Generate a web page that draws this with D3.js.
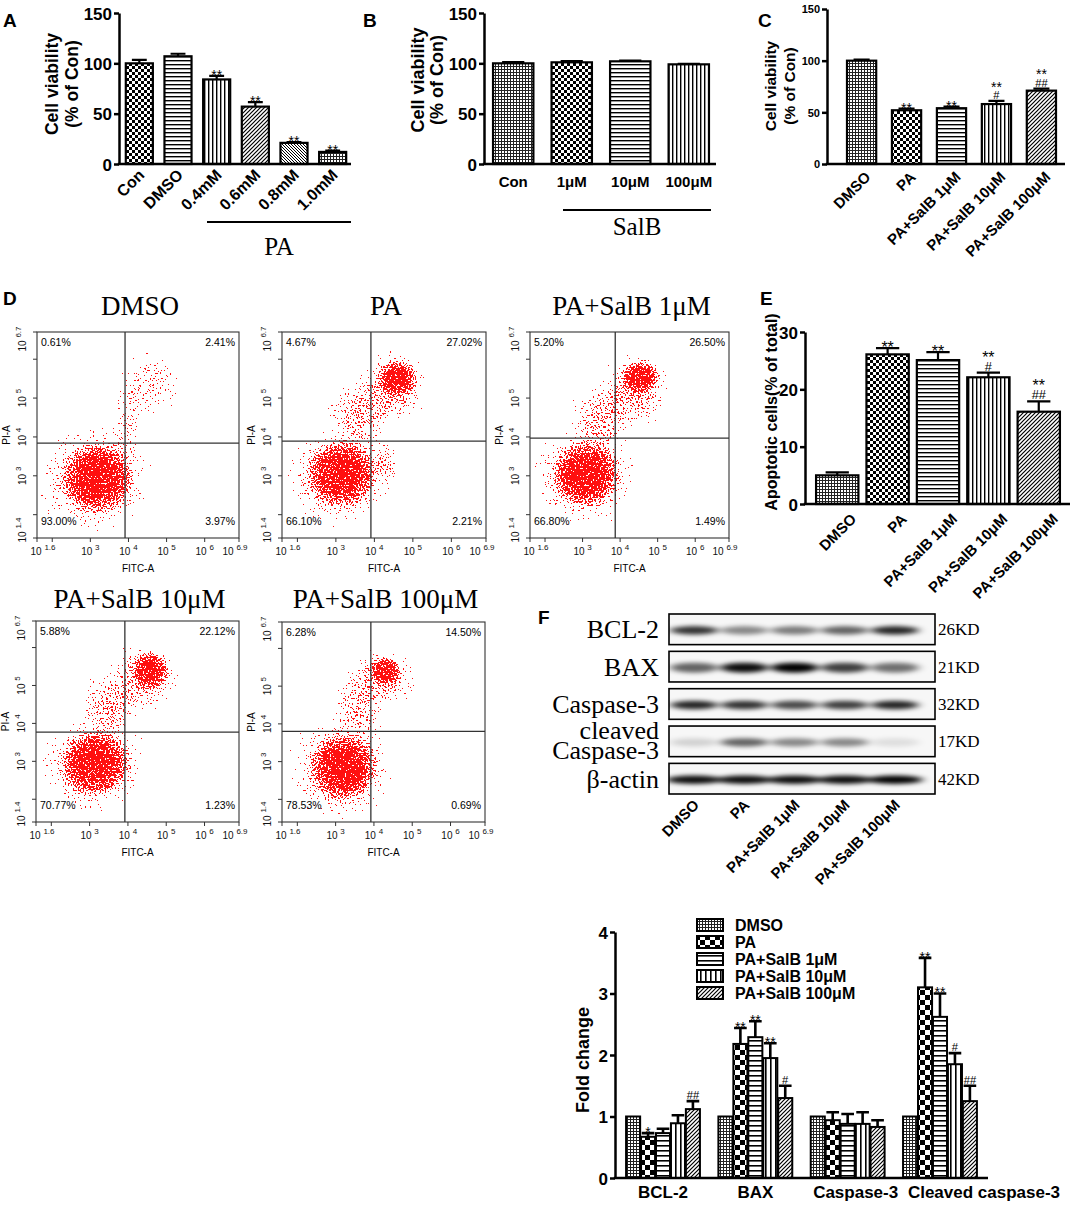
<!DOCTYPE html>
<html><head><meta charset="utf-8">
<script src="https://cdn.jsdelivr.net/npm/d3@7"></script>
<style>
body{margin:0;background:#fff}
svg{display:block}
</style>
</head><body><div id="fig"></div>
<script>
const SANS = '"Liberation Sans", Arial, sans-serif';
const SERIF = '"Liberation Serif", "Times New Roman", serif';

// ---------------- data ----------------
const aCats = ["Con", "DMSO", "0.4mM", "0.6mM", "0.8mM", "1.0mM"];
const aVals = [100, 107, 84, 57, 21, 12];
const aErrs = [3.5, 2.5, 3.5, 4.5, 0.8, 1.2];
const aMarks = [[], [], ["**"], ["**"], ["**"], ["**"]];

const bCats = ["Con", "1μM", "10μM", "100μM"];
const bVals = [100, 101, 102, 99];
const bErrs = [1.2, 1.2, 0.6, 0.6];

const cCats = ["DMSO", "PA", "PA+SalB 1μM", "PA+SalB 10μM", "PA+SalB 100μM"];
const cVals = [100, 52, 54, 58, 71];
const cErrs = [1, 1.5, 1.5, 3, 2];
const cMarks = [[], ["**"], ["**"], ["**", "#"], ["**", "##"]];

const eVals = [5, 26.1, 25.1, 22.1, 16.1];
const eErrs = [0.5, 1.1, 1.4, 0.8, 1.8];
const eMarks = [[], ["**"], ["**"], ["**", "#"], ["**", "##"]];

const flowNames = ["DMSO", "PA", "PA+SalB 1μM", "PA+SalB 10μM", "PA+SalB 100μM"];
// quadrant percentages: UL, UR, LL, LR
const flowQuad = [
  ["0.61%", "2.41%", "93.00%", "3.97%"],
  ["4.67%", "27.02%", "66.10%", "2.21%"],
  ["5.20%", "26.50%", "66.80%", "1.49%"],
  ["5.88%", "22.12%", "70.77%", "1.23%"],
  ["6.28%", "14.50%", "78.53%", "0.69%"]
];
// gate (log10 FITC, log10 PI)
const flowGate = [[3.91, 3.84], [3.91, 3.89], [3.87, 3.97], [3.92, 3.77], [3.92, 3.8]];
// populations: log10 FITC centre, log10 PI centre, x spread, y spread, tilt, density
const flowClusters = [
  [[3.2, 2.95, 1.0, 0.95, -20, 1], [3.1, 2.9, 1.6, 1.5, -20, 0.65], [4.6, 5.35, 1.0, 0.95, 0, 0.4], [4.0, 4.4, 0.45, 1.1, 0, 0.4]],
  [[3.15, 3.05, 0.95, 0.9, -20, 1], [3.1, 3.0, 1.5, 1.4, -20, 0.65], [4.6, 5.5, 0.55, 0.5, 0, 1], [4.5, 5.3, 1.0, 1.0, 0, 0.65], [3.6, 4.6, 0.95, 0.95, -30, 0.55], [4.3, 3.3, 0.5, 0.6, 0, 0.4]],
  [[3.1, 3.05, 0.95, 0.9, -20, 1], [3.05, 3.0, 1.5, 1.4, -20, 0.65], [4.55, 5.55, 0.55, 0.45, 0, 1], [4.4, 5.2, 1.0, 1.0, 0, 0.65], [3.5, 4.5, 0.95, 0.95, -30, 0.55]],
  [[3.15, 2.95, 0.95, 0.9, -20, 1], [3.1, 2.9, 1.5, 1.4, -20, 0.65], [4.6, 5.4, 0.5, 0.55, 0, 1], [4.4, 5.2, 1.05, 0.95, 0, 0.65], [3.5, 4.5, 0.85, 0.95, -30, 0.55]],
  [[3.2, 2.85, 0.95, 0.95, -20, 1], [3.15, 2.85, 1.5, 1.45, -20, 0.65], [4.3, 5.4, 0.45, 0.4, 0, 1], [4.2, 5.2, 1.05, 0.85, 0, 0.6], [3.6, 4.4, 0.75, 0.95, -30, 0.5]]
];

const blotRows = ["BCL-2", "BAX", "Caspase-3", "cleaved Caspase-3", "β-actin"];
const blotKD = ["26KD", "21KD", "32KD", "17KD", "42KD"];
const blotInt = [
  [0.8, 0.45, 0.5, 0.6, 0.85],
  [0.6, 0.95, 1, 0.75, 0.55],
  [0.85, 0.8, 0.7, 0.75, 0.85],
  [0.15, 0.6, 0.45, 0.45, 0.1],
  [0.95, 0.95, 0.95, 0.95, 1]
];

const fGroups = ["BCL-2", "BAX", "Caspase-3", "Cleaved caspase-3"];
const fSeries = ["DMSO", "PA", "PA+SalB 1μM", "PA+SalB 10μM", "PA+SalB 100μM"];
const fVals = [[1, 0.67, 0.73, 0.89, 1.12], [1, 2.18, 2.29, 1.95, 1.3], [1, 0.94, 0.88, 0.88, 0.83], [1, 3.1, 2.62, 1.85, 1.25]];
const fErrs = [[0, 0.06, 0.07, 0.13, 0.13], [0, 0.26, 0.26, 0.24, 0.2], [0, 0.13, 0.16, 0.19, 0.11], [0, 0.48, 0.38, 0.18, 0.25]];
const fMarks = [[[], ["*"], [], [], ["##"]], [[], ["**"], ["**"], ["**"], ["#"]], [[], [], [], [], []], [[], ["**"], ["**"], ["#"], ["##"]]];

// ---------------- svg ----------------
const W = 1072, H = 1208;
const svg = d3.select("#fig").append("svg").attr("width", W).attr("height", H);
const defs = svg.append("defs");

function pat(id, size, draw) {
  const p = defs.append("pattern").attr("id", id).attr("patternUnits", "userSpaceOnUse")
    .attr("width", size).attr("height", size);
  p.append("rect").attr("width", size).attr("height", size).attr("fill", "#fff");
  draw(p);
}
pat("chk", 6, p => {
  p.append("rect").attr("width", 3).attr("height", 3);
  p.append("rect").attr("x", 3).attr("y", 3).attr("width", 3).attr("height", 3);
});
pat("chkL", 10, p => {
  p.append("rect").attr("width", 5).attr("height", 5);
  p.append("rect").attr("x", 5).attr("y", 5).attr("width", 5).attr("height", 5);
});
pat("hl", 4, p => p.append("rect").attr("width", 4).attr("height", 1.4));
pat("hlL", 5, p => p.append("rect").attr("width", 5).attr("height", 1.6));
pat("vl", 4, p => p.append("rect").attr("width", 1.4).attr("height", 4));
pat("vlL", 5, p => p.append("rect").attr("width", 1.6).attr("height", 5));
pat("dg", 4, p => p.append("path").attr("d", "M-1,1l2,-2M0,4l4,-4M3,5l2,-2").attr("stroke", "#000").attr("stroke-width", 1.2));
pat("dgb", 3, p => p.append("path").attr("d", "M-1,2l2,2M0,0l3,3M2,-1l2,2").attr("stroke", "#000").attr("stroke-width", 1));
pat("grid", 3, p => {
  p.append("rect").attr("width", 3).attr("height", 1).attr("fill", "#222");
  p.append("rect").attr("width", 1).attr("height", 3).attr("fill", "#222");
});

// speckle filter for flow cytometry dot clouds
const flt = defs.append("filter").attr("id", "speckle").attr("filterUnits", "userSpaceOnUse")
  .attr("x", 0).attr("y", 0).attr("width", W).attr("height", H)
  .attr("color-interpolation-filters", "sRGB");
flt.append("feTurbulence").attr("type", "fractalNoise").attr("baseFrequency", 0.6)
  .attr("numOctaves", 1).attr("seed", 7).attr("result", "noise");
flt.append("feColorMatrix").attr("in", "noise").attr("type", "matrix")
  .attr("values", "0 0 0 0 0  0 0 0 0 0  0 0 0 0 0  2.5 0 0 0 -0.6").attr("result", "n");
flt.append("feComposite").attr("in", "SourceAlpha").attr("in2", "n").attr("operator", "arithmetic")
  .attr("k1", 0).attr("k2", 1).attr("k3", -1).attr("k4", 0.47).attr("result", "d");
flt.append("feComponentTransfer").attr("in", "d").attr("result", "m")
  .append("feFuncA").attr("type", "discrete").attr("tableValues", "0 1");
flt.append("feFlood").attr("flood-color", "#ff1010").attr("result", "red");
flt.append("feComposite").attr("in", "red").attr("in2", "m").attr("operator", "in");

defs.append("filter").attr("id", "blur").attr("x", "-50%").attr("y", "-100%").attr("width", "200%").attr("height", "300%")
  .append("feGaussianBlur").attr("stdDeviation", "5 2.2");

function txt(g, x, y, s, size, opts = {}) {
  return g.append("text").attr("x", x).attr("y", y).text(s)
    .attr("font-size", size).attr("font-family", opts.serif ? SERIF : SANS)
    .attr("font-weight", opts.bold ? "bold" : "normal")
    .attr("text-anchor", opts.anchor || "start").attr("fill", "#000");
}

// stack significance marks upward from the error bar top
function stackMarks(g, cx, top, marks, ms) {
  let cur = top - 2;
  marks.slice().reverse().forEach(m => {
    if (m.includes("*")) {
      txt(g, cx, cur + ms * 0.42, m, ms, { anchor: "middle" });
      cur -= ms * 0.45 + 1;
    } else {
      txt(g, cx, cur, m, ms * 0.8, { anchor: "middle" });
      cur -= ms * 0.8 + 2;
    }
  });
}

// ---------------- simple bar panels ----------------
function barPanel(o) {
  const g = svg.append("g");
  const x = d3.scaleBand().domain(o.cats).range(o.xr).paddingInner(o.pi).paddingOuter(o.po);
  const y = d3.scaleLinear().domain([0, o.max]).range(o.yr);
  const bw = x.bandwidth();
  g.selectAll("rect.bar").data(o.cats).join("rect").attr("class", "bar")
    .attr("x", d => x(d)).attr("width", bw)
    .attr("y", (d, i) => y(o.vals[i])).attr("height", (d, i) => y(0) - y(o.vals[i]))
    .attr("fill", (d, i) => `url(#${o.pats[i]})`)
    .attr("stroke", "#000").attr("stroke-width", 2.2);
  o.cats.forEach((c, i) => {
    const cx = x(c) + bw / 2, t = y(o.vals[i] + o.errs[i]);
    g.append("path").attr("d", `M${cx},${y(o.vals[i])}V${t}M${cx - bw * o.cap / 2},${t}H${cx + bw * o.cap / 2}`)
      .attr("stroke", "#000").attr("stroke-width", 2.2).attr("fill", "none");
    stackMarks(g, cx, t, o.marks ? o.marks[i] : [], o.ms);
  });
  const ax = g.append("g").attr("transform", `translate(${o.ax},0)`)
    .call(d3.axisLeft(y).tickValues(o.ticks).tickFormat(d3.format("d")).tickSize(5).tickSizeOuter(0).tickPadding(2));
  ax.select(".domain").attr("stroke-width", 2.5);
  ax.selectAll(".tick line").attr("stroke-width", 2.5);
  ax.selectAll(".tick text").attr("font-size", o.tfs).attr("font-weight", "bold")
    .attr("font-family", SANS).attr("fill", "#000").attr("dy", "0.36em");
  g.append("line").attr("x1", o.ax - 1.2).attr("x2", o.xEnd).attr("y1", y(0)).attr("y2", y(0))
    .attr("stroke", "#000").attr("stroke-width", 2.5);
  if (o.rot) {
    g.selectAll("text.xl").data(o.cats).join("text").attr("class", "xl")
      .attr("transform", d => `translate(${x(d) + bw / 2 + o.lx},${y(0) + o.ly}) rotate(-45)`)
      .attr("text-anchor", "end").attr("font-family", SANS).attr("font-weight", "bold")
      .attr("font-size", o.xfs).text(d => d);
  } else {
    g.selectAll("text.xl").data(o.cats).join("text").attr("class", "xl")
      .attr("x", d => x(d) + bw / 2).attr("y", y(0) + o.ly)
      .attr("text-anchor", "middle").attr("font-family", SANS).attr("font-weight", "bold")
      .attr("font-size", o.xfs).text(d => d);
  }
  o.ylab.forEach((s, k) => {
    g.append("text").attr("transform", `translate(${o.ylx[k]},${o.yly}) rotate(-90)`)
      .attr("text-anchor", "middle").attr("font-family", SANS).attr("font-weight", "bold")
      .attr("font-size", o.yfs).text(s);
  });
  return { g, x, y };
}

// A
barPanel({
  cats: aCats, vals: aVals, errs: aErrs, marks: aMarks,
  pats: ["chk", "hl", "vl", "dg", "dgb", "grid"],
  xr: [120, 352], pi: 0.3, po: 0.15, max: 150, yr: [164, 13], ax: 119, xEnd: 351,
  ticks: [0, 50, 100, 150], tfs: 17, cap: 0.55, ms: 14,
  rot: true, lx: 6, ly: 12, xfs: 16,
  ylab: ["Cell viability", "(% of Con)"], ylx: [58, 78], yly: 84, yfs: 17.5
});
svg.append("line").attr("x1", 207).attr("x2", 351).attr("y1", 222).attr("y2", 222).attr("stroke", "#000").attr("stroke-width", 2);
txt(svg, 279, 255, "PA", 25, { serif: true, anchor: "middle" });
txt(svg, 3, 27, "A", 19, { bold: true });

// B
barPanel({
  cats: bCats, vals: bVals, errs: bErrs,
  pats: ["grid", "chk", "hl", "vl"],
  xr: [486, 716], pi: 0.31, po: 0.12, max: 150, yr: [164, 13], ax: 484, xEnd: 716,
  ticks: [0, 50, 100, 150], tfs: 17, cap: 0.55, ms: 13,
  rot: false, ly: 23, xfs: 15,
  ylab: ["Cell viability", "(% of Con)"], ylx: [424, 443], yly: 80, yfs: 18
});
svg.append("line").attr("x1", 563).attr("x2", 711).attr("y1", 210).attr("y2", 210).attr("stroke", "#000").attr("stroke-width", 2);
txt(svg, 637, 235, "SalB", 25, { serif: true, anchor: "middle" });
txt(svg, 363, 27, "B", 19, { bold: true });

// C
barPanel({
  cats: cCats, vals: cVals, errs: cErrs, marks: cMarks,
  pats: ["grid", "chk", "hl", "vl", "dg"],
  xr: [838, 1065], pi: 0.35, po: 0.2, max: 150, yr: [164, 9], ax: 827, xEnd: 1065,
  ticks: [0, 50, 100, 150], tfs: 11, cap: 0.55, ms: 14,
  rot: true, lx: 10, ly: 14, xfs: 15,
  ylab: ["Cell viability", "(% of Con)"], ylx: [776, 795], yly: 86, yfs: 15.5
});
txt(svg, 758, 27, "C", 19, { bold: true });

// E
barPanel({
  cats: cCats, vals: eVals, errs: eErrs, marks: eMarks,
  pats: ["grid", "chk", "hl", "vl", "dg"],
  xr: [806, 1070], pi: 0.16, po: 0.2, max: 30, yr: [504, 332], ax: 805, xEnd: 1070,
  ticks: [0, 10, 20, 30], tfs: 17, cap: 0.55, ms: 16,
  rot: true, lx: 20, ly: 16, xfs: 15,
  ylab: ["Apoptotic cells(% of total)"], ylx: [777], yly: 412, yfs: 16
});
txt(svg, 760, 305, "E", 19, { bold: true });

// ---------------- D: flow cytometry ----------------
const flowBox = [[37, 332, 239, 538], [282, 332, 486, 538], [530, 332, 729, 538], [36, 621, 239, 822], [282, 622, 485, 822]];
const flowTitleY = [315, 315, 315, 608, 608];
txt(svg, 3, 305, "D", 19, { bold: true });

function pow10(g, x, y, e, rot) {
  const t = g.append("text").attr("font-family", SANS).attr("font-size", 10).attr("fill", "#111")
    .attr("text-anchor", "middle")
    .attr("transform", rot ? `translate(${x},${y}) rotate(-90)` : `translate(${x},${y})`);
  t.append("tspan").text("10 ");
  t.append("tspan").attr("font-size", 8).attr("dy", -5).text(e);
}

flowNames.forEach((name, i) => {
  const [x0, y0, x1, y1] = flowBox[i];
  const fx = d3.scaleLinear().domain([1.6, 6.9]).range([x0, x1]);
  const fy = d3.scaleLinear().domain([1.4, 6.7]).range([y1, y0]);
  const g = svg.append("g");
  const cid = "fclip" + i;
  defs.append("clipPath").attr("id", cid).append("rect")
    .attr("x", x0).attr("y", y0).attr("width", x1 - x0).attr("height", y1 - y0);
  const cl = g.append("g").attr("clip-path", `url(#${cid})`).append("g").attr("filter", "url(#speckle)");
  flowClusters[i].forEach((c, j) => {
    const gid = `fg${i}_${j}`;
    const rg = defs.append("radialGradient").attr("id", gid);
    const stops = c[5] >= 0.9 ? [[0, 1], [0.45, 1], [0.8, 0.45], [1, 0]] : [[0, 1], [0.4, 0.75], [0.75, 0.3], [1, 0]];
    stops.forEach(([o, a]) =>
      rg.append("stop").attr("offset", o).attr("stop-color", "#000").attr("stop-opacity", a * c[5]));
    const cx = fx(c[0]), cy = fy(c[1]);
    cl.append("ellipse").attr("cx", cx).attr("cy", cy)
      .attr("rx", c[2] * (fx(1) - fx(0))).attr("ry", c[3] * (fy(0) - fy(1)))
      .attr("transform", `rotate(${c[4]},${cx},${cy})`).attr("fill", `url(#${gid})`);
  });
  g.append("rect").attr("x", x0).attr("y", y0).attr("width", x1 - x0).attr("height", y1 - y0)
    .attr("fill", "none").attr("stroke", "#333").attr("stroke-width", 1.1);
  const [gx, gy] = flowGate[i];
  g.append("line").attr("x1", fx(gx)).attr("x2", fx(gx)).attr("y1", y0).attr("y2", y1).attr("stroke", "#333").attr("stroke-width", 1.3);
  g.append("line").attr("x1", x0).attr("x2", x1).attr("y1", fy(gy)).attr("y2", fy(gy)).attr("stroke", "#333").attr("stroke-width", 1.3);
  // ticks
  [1.4, 2, 3, 4, 5, 6, 6.7].forEach(v => g.append("line").attr("x1", x0 - 4).attr("x2", x0).attr("y1", fy(v)).attr("y2", fy(v)).attr("stroke", "#333"));
  [1.6, 2, 3, 4, 5, 6, 6.9].forEach(v => g.append("line").attr("y1", y1).attr("y2", y1 + 4).attr("x1", fx(v)).attr("x2", fx(v)).attr("stroke", "#333"));
  [[6.7, 7], [5, 0], [4, 0], [3, 0], [1.4, -8]].forEach(([v, s]) => pow10(g, x0 - 11, fy(v) + s, v, true));
  [[1.6, 6], [3, 0], [4, 0], [5, 0], [6, 0], [6.9, -4]].forEach(([v, s]) => pow10(g, fx(v) + s, y1 + 17, v, false));
  g.append("text").attr("transform", `translate(${x0 - 27},${(y0 + y1) / 2}) rotate(-90)`)
    .attr("text-anchor", "middle").attr("font-family", SANS).attr("font-size", 10).text("PI-A");
  txt(g, (x0 + x1) / 2, y1 + 34, "FITC-A", 10, { anchor: "middle" });
  const q = flowQuad[i];
  txt(g, x0 + 4, y0 + 14, q[0], 10.5);
  txt(g, x1 - 4, y0 + 14, q[1], 10.5, { anchor: "end" });
  txt(g, x0 + 4, y1 - 13, q[2], 10.5);
  txt(g, x1 - 4, y1 - 13, q[3], 10.5, { anchor: "end" });
  txt(g, (x0 + x1) / 2 + 2, flowTitleY[i], name, 27, { serif: true, anchor: "middle" });
});

// ---------------- F: western blot ----------------
const rowS = d3.scaleBand().domain(blotRows).range([614, 794]).paddingInner(0.18);
const laneS = d3.scaleBand().domain(fSeries).range([669, 920]);
const blot = svg.append("g");
txt(blot, 538, 624, "F", 19, { bold: true });
blotRows.forEach((r, ri) => {
  const y0 = rowS(r), h = rowS.bandwidth();
  const cid = "bclip" + ri;
  defs.append("clipPath").attr("id", cid).append("rect").attr("x", 669).attr("y", y0).attr("width", 266).attr("height", h);
  const bg = blot.append("g").attr("clip-path", `url(#${cid})`);
  bg.append("rect").attr("x", 669).attr("y", y0).attr("width", 266).attr("height", h).attr("fill", "#f7f7f7");
  const bands = bg.append("g").attr("filter", "url(#blur)");
  fSeries.forEach((l, li) => {
    bands.append("ellipse").attr("cx", laneS(l) + laneS.bandwidth() / 2).attr("cy", y0 + h / 2 + 1)
      .attr("rx", ri === 4 ? 28 : 24).attr("ry", ri === 1 ? 5 : 4.2)
      .attr("fill", "#000").attr("opacity", blotInt[ri][li]);
  });
  blot.append("rect").attr("x", 669).attr("y", y0).attr("width", 266).attr("height", h)
    .attr("fill", "none").attr("stroke", "#000").attr("stroke-width", 1.6);
  if (ri === 3) {
    txt(blot, 659, y0 + 13, "cleaved", 26, { serif: true, anchor: "end" });
    txt(blot, 659, y0 + 33, "Caspase-3", 26, { serif: true, anchor: "end" });
  } else {
    txt(blot, 659, y0 + h / 2 + 9, r, 26, { serif: true, anchor: "end" });
  }
  txt(blot, 938, y0 + h / 2 + 6, blotKD[ri], 17, { serif: true });
});
blot.selectAll("text.ll").data(fSeries).join("text").attr("class", "ll")
  .attr("transform", d => `translate(${laneS(d) + laneS.bandwidth() / 2 + 6},${806}) rotate(-45)`)
  .attr("text-anchor", "end").attr("font-family", SANS).attr("font-weight", "bold")
  .attr("font-size", 15).text(d => d);

// ---------------- F: fold change chart ----------------
const fPats = ["grid", "chkL", "hlL", "vlL", "dg"];
const fx0 = d3.scaleBand().domain(fGroups).range([615, 988]).paddingInner(0.2).paddingOuter(0.12);
const fx1 = d3.scaleBand().domain(fSeries).range([0, fx0.bandwidth()]).paddingInner(0.06);
const fy = d3.scaleLinear().domain([0, 4]).range([1178, 932]);
const fc = svg.append("g");
fGroups.forEach((grp, gi) => {
  fSeries.forEach((s, si) => {
    const bx = fx0(grp) + fx1(s), bw = fx1.bandwidth(), v = fVals[gi][si], e = fErrs[gi][si];
    const cx = bx + bw / 2;
    if (e > 0) {
      const t = fy(v + e);
      fc.append("path").attr("d", `M${cx},${fy(v)}V${t}M${cx - bw * 0.45},${t}H${cx + bw * 0.45}`)
        .attr("stroke", "#000").attr("stroke-width", 2.6).attr("fill", "none");
    }
    fc.append("rect").attr("x", bx).attr("width", bw).attr("y", fy(v)).attr("height", fy(0) - fy(v))
      .attr("fill", `url(#${fPats[si]})`).attr("stroke", "#000").attr("stroke-width", 2);
    stackMarks(fc, cx, fy(v + e), fMarks[gi][si], 14);
  });
});
const fax = fc.append("g").attr("transform", "translate(615,0)")
  .call(d3.axisLeft(fy).tickValues([0, 1, 2, 3, 4]).tickFormat(d3.format("d")).tickSize(5).tickSizeOuter(0).tickPadding(2));
fax.select(".domain").attr("stroke-width", 2.5);
fax.selectAll(".tick line").attr("stroke-width", 2.5);
fax.selectAll(".tick text").attr("font-size", 17).attr("font-weight", "bold").attr("font-family", SANS).attr("fill", "#000").attr("dy", "0.36em");
fc.append("line").attr("x1", 613.8).attr("x2", 988).attr("y1", fy(0)).attr("y2", fy(0)).attr("stroke", "#000").attr("stroke-width", 2.5);
// group labels: the last one runs past the axis end as in the source figure
const fLabX = [0, 0, 8, 44];
fGroups.forEach((grp, gi) => txt(fc, fx0(grp) + fx0.bandwidth() / 2 + fLabX[gi], 1198, grp, 17, { bold: true, anchor: "middle" }));
fc.append("text").attr("transform", "translate(589,1060) rotate(-90)").attr("text-anchor", "middle")
  .attr("font-family", SANS).attr("font-weight", "bold").attr("font-size", 18).text("Fold change");
fSeries.forEach((s, si) => {
  const yy = 925 + si * 17;
  fc.append("rect").attr("x", 697).attr("y", yy - 6).attr("width", 26).attr("height", 12)
    .attr("fill", `url(#${fPats[si]})`).attr("stroke", "#000").attr("stroke-width", 2);
  txt(fc, 735, yy + 6, s, 16, { bold: true });
});
</script>
</body></html>
